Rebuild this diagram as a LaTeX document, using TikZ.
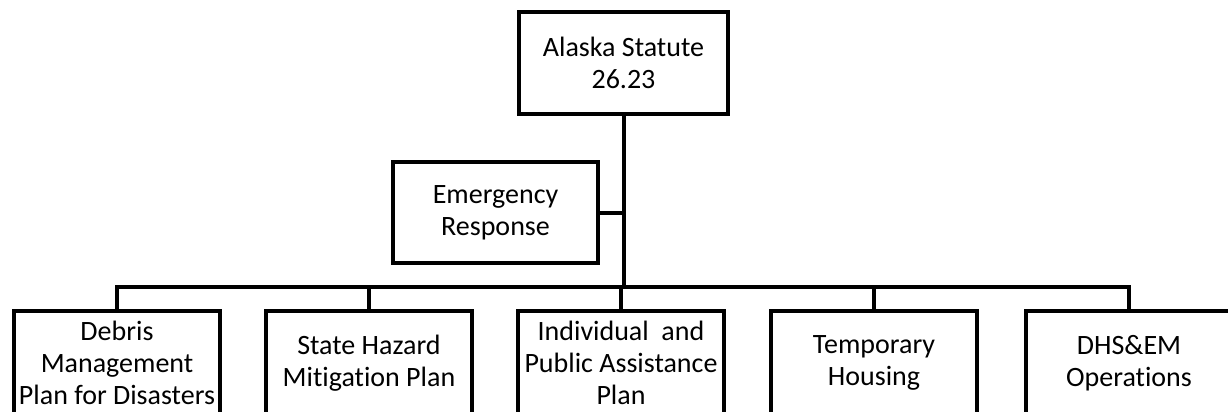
\documentclass[tikz,border=0pt]{standalone}
\usepackage{fontspec}
\setmainfont{Carlito}[Ligatures=NoCommon]
\begin{document}
\begin{tikzpicture}[x=1pt, y=-1pt,
        box/.style={draw, line width=4pt, align=center, inner sep=0pt,
            font=\fontsize{28}{32}\selectfont},
        topbox/.style={box, minimum width=209pt, minimum height=102pt},
        midbox/.style={box, minimum width=205pt, minimum height=101pt},
        planbox/.style={box, minimum width=206pt, minimum height=104pt},
        link/.style={line width=4pt}]
            \useasboundingbox[fill=white] (0,0) rectangle (1228,412);
            \clip (0,0) rectangle (1228,412);

            \node[topbox] (statute) at (623.5, 63) {Alaska Statute\\26.23};
            \node[midbox] (response) at (495.5, 212.5) {Emergency\\Response};

            \node[planbox] (debris) at (117, 363) {Debris\\Management\\Plan for Disasters};
            \node[planbox] (hazard) at (369, 363) {State Hazard\\Mitigation Plan};
            \node[planbox] (assist) at (621, 363) {Individual\ \ and\\Public Assistance\\Plan};
            \node[planbox] (housing) at (874, 363) {Temporary\\Housing};
            \node[planbox] (dhsem) at (1129, 363) {DHS\&EM\\Operations};

            \coordinate (bus) at (623.5, 287);

            \draw[link] (statute) -- (bus);
            \draw[link] (response) -- (response -| statute);
            \draw[link] (debris) -- (debris |- bus) -- (dhsem |- bus) -- (dhsem);
            \draw[link] (hazard) -- (hazard |- bus);
            \draw[link] (assist) -- (assist |- bus);
            \draw[link] (housing) -- (housing |- bus);
        \end{tikzpicture}
\end{document}
